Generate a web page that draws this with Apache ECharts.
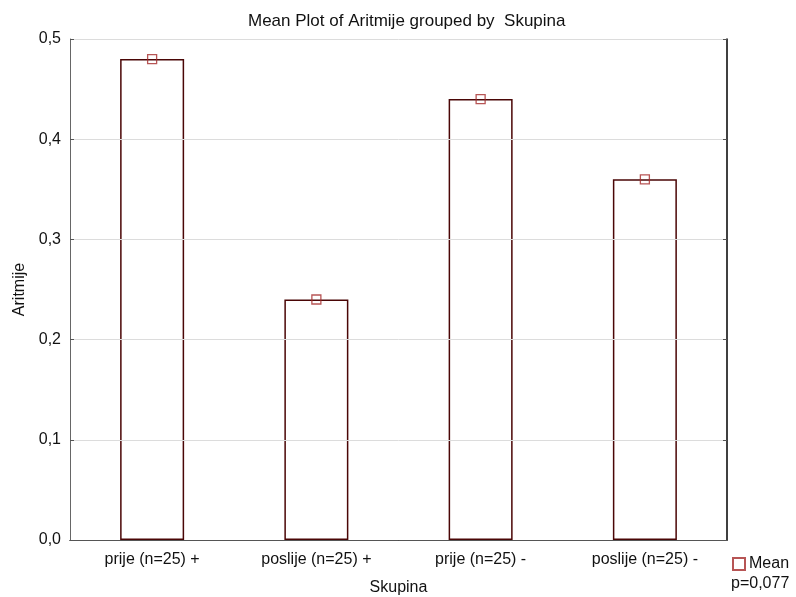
<!DOCTYPE html>
<html>
<head>
<meta charset="utf-8">
<script src="https://cdn.jsdelivr.net/npm/echarts@6/dist/echarts.min.js"></script>
<style>html,body{margin:0;padding:0;background:#fff}#c{width:796px;height:597px}</style>
</head>
<body>
<div id="c"></div>
<script>
const categories = ['prije (n=25) +', 'poslije (n=25) +', 'prije (n=25) -', 'poslije (n=25) -'];
const means = [0.48, 0.24, 0.44, 0.36];
const yTicks = [0, 0.1, 0.2, 0.3, 0.4, 0.5];
const titleText = 'Mean Plot of Aritmije grouped by  Skupina';
const pText = 'p=0,077';

const FONT = 'Liberation Sans, Arial, sans-serif';
const FS = 16;
const chart = echarts.init(document.getElementById('c'));
chart.setOption({
  animation: false,
  backgroundColor: '#fff',
  title: {
    text: titleText, left: 243, top: 8,
    textStyle: {fontFamily: FONT, fontSize: 17, fontWeight: 'normal', color: '#111'}
  },
  grid: {left: 70, right: 69, top: 39, bottom: 57, containLabel: false, outerBoundsMode: 'none'},
  legend: {
    data: ['Mean'], left: 732, top: 556, itemWidth: 12, itemHeight: 12, itemGap: 4,
    icon: 'rect', padding: [0, 0, 0, 0],
    textStyle: {fontFamily: FONT, fontSize: FS, color: '#111', padding: [0, 0, 0, -1]}
  },
  graphic: [{
    type: 'text', left: 731, top: 576,
    style: {text: pText, font: FS + 'px ' + FONT, fill: '#111'}
  }],
  xAxis: [{
    type: 'category', data: categories, position: 'bottom', z: 5,
    name: 'Skupina', nameLocation: 'middle', nameGap: 40,
    nameTextStyle: {fontFamily: FONT, fontSize: FS, color: '#111'},
    axisLine: {lineStyle: {color: '#000', width: 1}},
    axisTick: {inside: true, alignWithLabel: true, length: 4, lineStyle: {color: '#555'}},
    axisLabel: {fontFamily: FONT, fontSize: FS, color: '#111', margin: 12},
    splitLine: {show: false}
  }, {
    type: 'category', data: categories, position: 'top', z: 5,
    axisLine: {lineStyle: {color: '#555', width: 1}},
    axisTick: {inside: true, alignWithLabel: true, length: 4, lineStyle: {color: '#555'}},
    axisLabel: {show: false}, splitLine: {show: false}
  }],
  yAxis: [{
    type: 'value', min: 0, max: 0.5, interval: 0.1, position: 'left', z: 5,
    name: 'Aritmije', nameLocation: 'middle', nameGap: 42,
    nameTextStyle: {fontFamily: FONT, fontSize: FS, color: '#111'},
    axisLine: {show: true, lineStyle: {color: '#666', width: 1}},
    axisTick: {show: true, inside: true, length: 4, lineStyle: {color: '#555'}},
    axisLabel: {fontFamily: FONT, fontSize: FS, color: '#111', margin: 9,
      formatter: v => v.toFixed(1).replace('.', ',')},
    splitLine: {show: true, lineStyle: {color: '#dcdcdc', width: 1}}
  }, {
    type: 'value', min: 0, max: 0.5, interval: 0.1, position: 'right', z: 5,
    axisLine: {show: true, lineStyle: {color: '#000', width: 1.5}},
    axisTick: {show: true, inside: true, length: 4, lineStyle: {color: '#555'}},
    axisLabel: {show: false}, splitLine: {show: false}
  }],
  series: [{
    type: 'bar', name: 'bars', data: means, barWidth: 64, xAxisIndex: 0, yAxisIndex: 0,
    itemStyle: {color: '#fff', borderColor: '#4a0606', borderWidth: 1.5},
    z: 2, silent: true
  }, {
    type: 'scatter', name: 'Mean', data: means, xAxisIndex: 0, yAxisIndex: 0,
    symbol: 'rect', symbolSize: 9,
    itemStyle: {color: 'rgba(255,255,255,0)', borderColor: '#a52a2a', borderWidth: 1.3},
    z: 6
  }]
});
</script>
</body>
</html>
